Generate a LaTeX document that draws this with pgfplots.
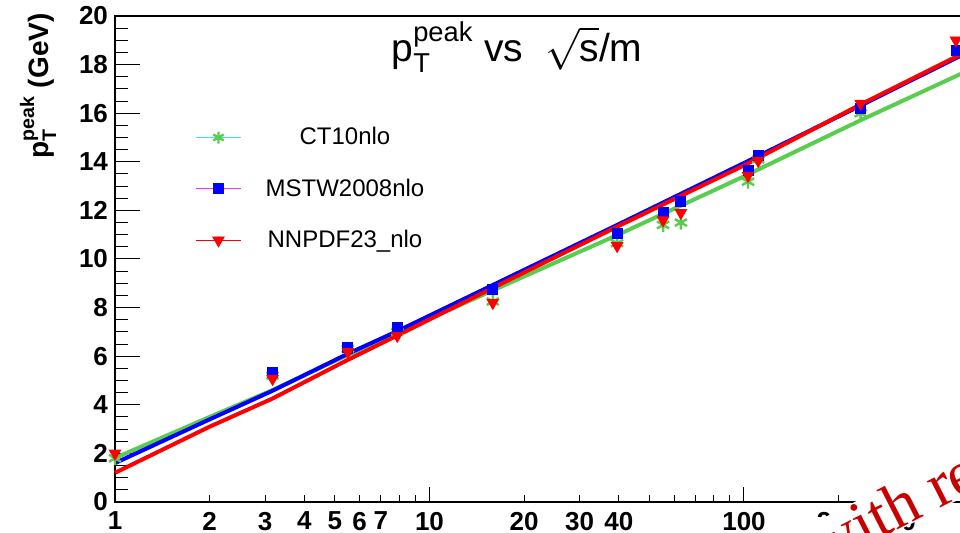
\documentclass[border=0pt]{standalone}
\usepackage{amsmath}
\usepackage{fontspec}
\setmainfont{Liberation Sans}
\newfontfamily\wmfont{Liberation Serif}
\usepackage{pgfplots}
\pgfplotsset{compat=1.18}

\definecolor{ctgreen}{RGB}{90,204,80}
\definecolor{legcyan}{RGB}{70,225,225}
\definecolor{legmag}{RGB}{255,40,255}
\definecolor{wmred}{RGB}{200,0,0}

% tick labels sit below the plotted material, frame and ticks above it
\pgfplotsset{
  layers/wmlayers/.define layer set={
    axis background,axis grid,axis tick labels,main,axis ticks,axis lines,axis descriptions,axis foreground
  }{},
}

\begin{document}
\begin{tikzpicture}
\begin{axis}[
  set layers=wmlayers,
  at={(0pt,0pt)}, anchor=south west,
  scale only axis, width=471.75pt, height=243pt,
  xmode=log, xmin=1, xmax=1000, ymin=0, ymax=20,
  clip=false,
  /pgf/number format/assume math mode=true,
  axis line style={line width=1pt},
  tick style={line width=0.5pt, black},
  tick align=inside,
  xtick pos=bottom, ytick pos=left,
  xtick={1,10,100,1000}, xticklabels={1,10,100,1000},
  minor xtick={2,3,4,5,6,7,8,9,20,30,40,50,60,70,80,90,200,300,400,500,600,700,800,900},
  extra x ticks={2,3,4,5,6,7,20,30,40,200,300},
  extra x tick labels={2,3,4,5,6,7,20,30,40,200,300},
  extra x tick style={major tick style={draw=none}},
  every major x tick/.append style={/pgfplots/major tick length=7.5pt},
  every minor x tick/.append style={/pgfplots/minor tick length=3.5pt},
  ytick={0,2,...,20}, minor y tick num=3,
  major tick length=12.5pt, minor tick length=6.3pt,
  ticklabel style={font=\fontsize{13}{15}\selectfont\bfseries},
  xticklabel style={yshift=-1.5pt},
  yticklabel style={xshift=0pt},
  legend cell align=center,
  legend style={draw=none, fill=none, inner sep=0pt,
    at={(0.0848,0.78)}, anchor=north west,
    font=\fontsize{12}{14}\selectfont, row sep=11.5pt,
    /tikz/every odd column/.append style={column sep=10pt}},
]
% fitted curves
\addplot[ctgreen, line width=2pt, forget plot] table {
x y
1 1.81
2 3.50
3.16 4.60
5.5 6.05
7.9 6.95
15.85 8.70
39.8 11.0
100 13.4
234 15.7
486 17.6
631 18.3
};
\addplot[blue, line width=2pt, forget plot] table {
x y
1 1.60
2 3.40
3.16 4.57
5.5 6.10
7.9 7.03
15.85 8.92
39.8 11.42
100 13.95
234 16.30
486 18.35
631 19.0
};
\addplot[red, line width=2pt, forget plot] table {
x y
1 1.20
2 3.10
3.16 4.25
5.5 5.85
7.9 6.85
15.85 8.80
39.8 11.35
100 13.85
234 16.35
486 18.40
631 19.15
};
% peak positions
\addplot[only marks, ctgreen, mark=asterisk, mark size=3.5pt, line width=1.2pt, forget plot] table {
x y
1 1.80
3.17 5.20
5.5 6.30
7.9 7.00
15.9 8.25
39.5 10.65
55.3 11.40
63 11.50
103 13.18
111 14.10
235 16.00
};
\addplot[only marks, blue, mark=square*, mark size=2.5pt, forget plot] table {
x y
3.17 5.35
5.5 6.38
7.9 7.20
15.9 8.73
39.5 11.04
55.3 11.90
63 12.36
103 13.63
111 14.25
235 16.20
472 18.60
};
\addplot[only marks, red, mark=triangle*, mark size=3.3pt, mark options={rotate=180}, forget plot] table {
x y
1 2.00
3.17 5.07
5.5 6.18
7.9 6.84
15.9 8.20
39.5 10.54
55.3 11.60
63 11.90
103 13.43
111 14.04
235 16.40
472 19.00
};
\addlegendimage{legend image code/.code={
  \draw[legcyan, line width=0.6pt] (0pt,0pt) -- (22.5pt,0pt);
  \draw[ctgreen, line width=1.2pt] plot[mark=asterisk, mark size=3pt] coordinates {(11.25pt,0pt)};}}
\addlegendentry{CT10nlo}
\addlegendimage{legend image code/.code={
  \draw[legmag, line width=0.6pt] (0pt,0pt) -- (22.5pt,0pt);
  \draw[blue] plot[mark=square*, mark size=2.5pt] coordinates {(11.25pt,0pt)};}}
\addlegendentry{MSTW2008nlo}
\addlegendimage{legend image code/.code={
  \draw[red, line width=0.6pt] (0pt,0pt) -- (22.5pt,0pt);
  \draw[red] plot[mark=triangle*, mark size=3.3pt, mark options={rotate=180}] coordinates {(11.25pt,0pt)};}}
\addlegendentry{NNPDF23\_nlo}
% stamp across the lower right corner
\path (rel axis cs:0,0) ++(354pt,-33pt) node[anchor=base west, rotate=27, fill=white, inner sep=0pt,
  text=wmred, font=\wmfont\fontsize{32}{36}\selectfont] {with re};
\end{axis}
% title and y label
\node at (201pt,227.5pt) {\fontsize{19.5}{23}\selectfont p$_{\text{T}}^{\text{peak}}$ vs\ \ $\sqrt{\text{s}}$/m};
\node[rotate=90] at (-38.5pt,208pt) {\fontsize{14}{16}\selectfont\bfseries p$_{\text{T}}^{\text{peak}}$ (GeV)};
\pgfresetboundingbox
\useasboundingbox (-57.5pt,-15.5pt) rectangle (422.5pt,251pt);
\end{tikzpicture}
\end{document}
